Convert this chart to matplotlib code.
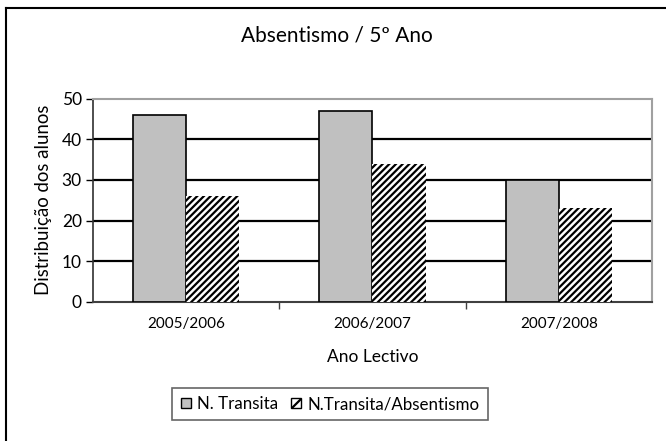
import matplotlib
matplotlib.use("Agg")
import matplotlib.pyplot as plt
from matplotlib.patches import Patch
from matplotlib.lines import Line2D
import numpy as np

plt.rcParams['font.family'] = ['Lato', 'DejaVu Sans']
plt.rcParams['hatch.linewidth'] = 1.6

anos = ["2005/2006", "2006/2007", "2007/2008"]
transita = [46, 47, 30]
absentismo = [26, 34, 23]
series = ["N. Transita", "N.Transita/Absentismo"]

W, H = 666, 441
fig = plt.figure(figsize=(W / 100, H / 100), dpi=100)

# moldura exterior (so lados esquerdo e superior visiveis)
fig.add_artist(Line2D([6 / W, 6 / W], [0, 1 - 8 / H], color="black", lw=1.5,
                      transform=fig.transFigure))
fig.add_artist(Line2D([6 / W, 1], [1 - 8 / H, 1 - 8 / H], color="black", lw=1.5,
                      transform=fig.transFigure))

ax = fig.add_axes([93 / W, 1 - 301.7 / H, 559 / W, 203 / H])
x = np.arange(len(anos))
bw = 0.285
ax.bar(x - bw / 2, transita, bw, color="#c0c0c0", edgecolor="black", lw=1.2,
       zorder=3)
ax.bar(x + bw / 2, absentismo, bw, color="white", edgecolor="black", lw=0,
       hatch="/////", zorder=3)

ax.set_xlim(-0.5, 2.5)
ax.set_ylim(0, 50)
ax.set_yticks(range(0, 51, 10))
for v in range(10, 50, 10):
    ax.axhline(v, color="black", lw=1.6, zorder=1)

ax.set_xticks([0.5, 1.5], minor=False)
ax.set_xticklabels([])
ax.set_xticks(x, minor=True)
ax.set_xticklabels(anos, minor=True)
ax.tick_params(axis="x", which="minor", length=0, pad=11, labelsize=11)
ax.tick_params(axis="x", which="major", length=5, width=1, color="#404040")
ax.tick_params(axis="y", length=5, width=1, labelsize=12.5, pad=3)

for s in ["top", "right"]:
    ax.spines[s].set_color("#a0a0a0")
    ax.spines[s].set_linewidth(1.5)
ax.spines["left"].set_color("#303030")
ax.spines["left"].set_linewidth(1.2)
ax.spines["bottom"].set_color("#404040")
ax.spines["bottom"].set_linewidth(1.5)

ax.set_xlabel("Ano Lectivo", fontsize=12.5, labelpad=13)
ax.set_ylabel("Distribuição dos alunos", fontsize=13.4, labelpad=7)
fig.text(337 / W, 1 - 36 / H, "Absentismo / 5º Ano", fontsize=15,
         ha="center", va="center")

handles = [Patch(facecolor="#c0c0c0", edgecolor="black"),
           Patch(facecolor="white", edgecolor="black", hatch="///")]
leg = fig.legend(handles, series, loc="center", ncol=2,
                 bbox_to_anchor=(330 / W, 1 - 404 / H), frameon=True,
                 fancybox=False, edgecolor="#404040", fontsize=12.2,
                 handlelength=0.6, handleheight=0.6, handletextpad=0.35,
                 columnspacing=0.8, borderpad=0.5, borderaxespad=0)
leg.get_frame().set_linewidth(1.2)

fig.savefig("out.png", dpi=100)
